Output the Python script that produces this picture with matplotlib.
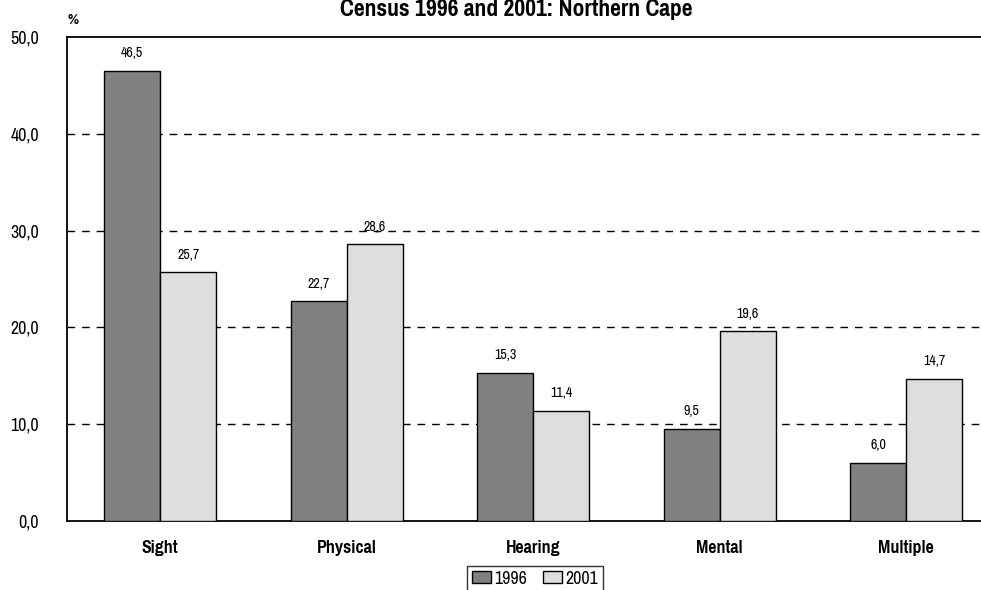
import matplotlib
matplotlib.use("Agg")
import matplotlib.pyplot as plt
from matplotlib import font_manager
import numpy as np

categories = ["Sight", "Physical", "Hearing", "Mental", "Multiple"]
v1996 = [46.5, 22.7, 15.3, 9.5, 6.0]
v2001 = [25.7, 28.6, 11.4, 19.6, 14.7]
series_labels = ["1996", "2001"]
yticks = [0, 10, 20, 30, 40, 50]
title = "Census 1996 and 2001: Northern Cape"

names = {f.name for f in font_manager.fontManager.ttflist}
fam = "Liberation Sans"
for cand in ["Liberation Sans Narrow", "Arial Narrow", "Pragati Narrow", "Roboto Condensed",
             "Archivo Narrow", "PT Sans Narrow"]:
    if cand in names:
        fam = cand
        break
plt.rcParams["font.family"] = [fam, "DejaVu Sans"]

W, H = 981, 590
fig = plt.figure(figsize=(W / 100, H / 100), dpi=100)
left, right, top, bottom = 67, 999.5, 37, 521
ax = fig.add_axes([left / W, 1 - bottom / H, (right - left) / W, (bottom - top) / H])

x = np.arange(len(categories)) + 0.5
bw = 0.3
b1 = ax.bar(x - bw / 2, v1996, bw, color="#808080", edgecolor="black", linewidth=1, zorder=3, label=series_labels[0])
b2 = ax.bar(x + bw / 2, v2001, bw, color="#dedede", edgecolor="black", linewidth=1, zorder=3, label=series_labels[1])

for bars, vals in ((b1, v1996), (b2, v2001)):
    for r, v in zip(bars, vals):
        ax.text(r.get_x() + r.get_width() / 2, v + 1.1, f"{v:.1f}".replace(".", ","),
                ha="center", va="bottom", fontsize=11, zorder=0)

ax.set_xlim(0, len(categories))
ax.set_ylim(0, 50)
ax.set_yticks(yticks)
ax.set_yticklabels([f"{t:.1f}".replace(".", ",") for t in yticks], fontsize=14)
ax.set_xticks(x)
ax.set_xticklabels(categories, fontsize=14, fontweight="bold")
ax.tick_params(axis="x", length=0, pad=14)
ax.tick_params(axis="y", length=0, pad=20)
for t in yticks[1:-1]:
    ax.axhline(t, color="black", linestyle=(0, (5.5, 5)), linewidth=1.0, zorder=1)
for s in ["left", "bottom", "top"]:
    ax.spines[s].set_linewidth(1.3)
ax.spines["right"].set_visible(False)

fig.text(516 / W, 1 - 16 / H, title, ha="center", va="baseline", fontsize=18.5, fontweight="bold")
fig.text(73 / W, 1 - 20 / H, "%", ha="center", va="center", fontsize=12, fontweight="bold")

leg = fig.legend(handles=[b1, b2], labels=series_labels, loc="upper center",
                 bbox_to_anchor=(535 / W, 1 - 566 / H), ncol=2, frameon=True, fancybox=False,
                 edgecolor="black", fontsize=14, handlelength=1.0, handleheight=0.6,
                 handletextpad=0.15, columnspacing=0.8, borderpad=0.25, borderaxespad=0)
leg.get_frame().set_linewidth(1)

fig.savefig("out.png", dpi=100)
